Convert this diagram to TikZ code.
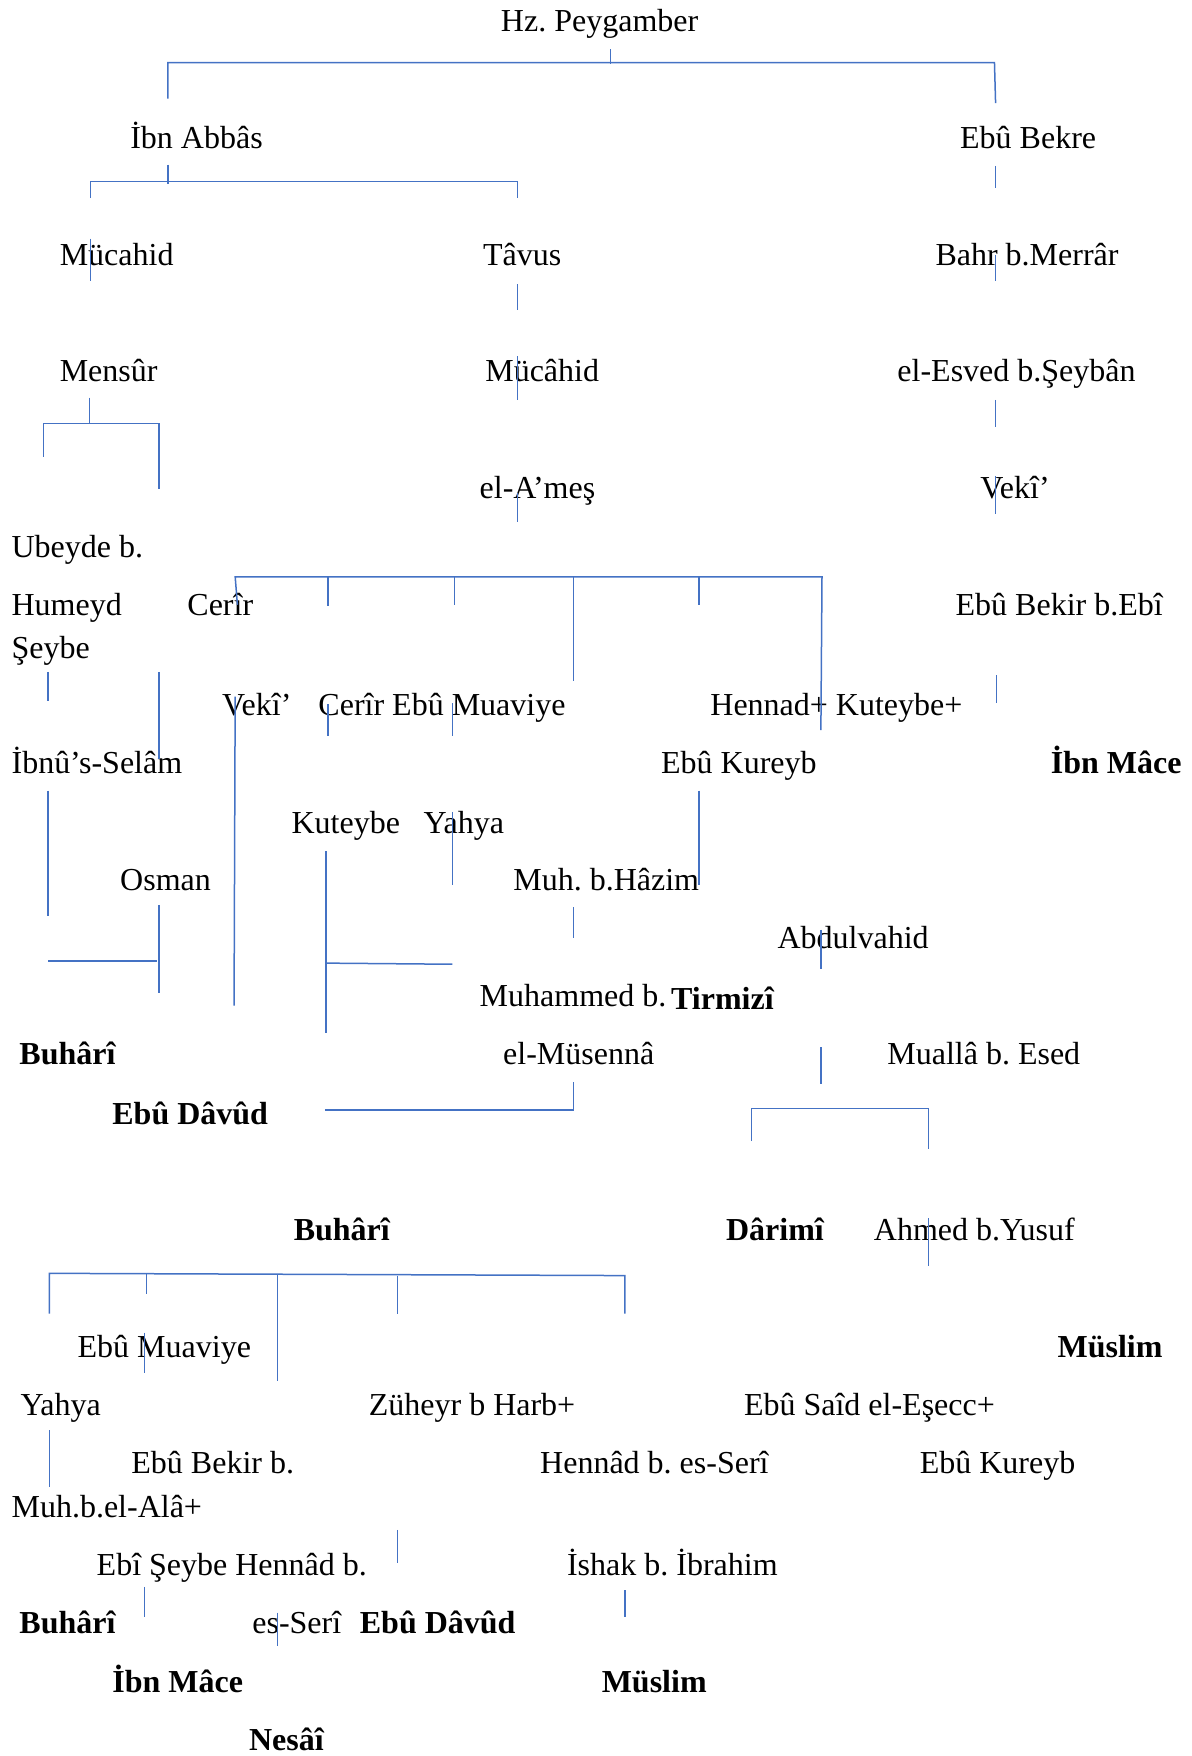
\documentclass[tikz,border=0pt]{standalone}
\usepackage{fontspec}
\setmainfont{Liberation Serif}
\usepackage{tikz}
\usetikzlibrary{positioning}
\frenchspacing

\begin{document}
\begin{tikzpicture}[x=0.56pt,y=-0.56pt,
    isim/.style={anchor=base west,inner sep=0pt,yshift=-1.6pt,font=\fontsize{16}{19}\selectfont},
    musannif/.style={isim,font=\fontsize{16}{19}\selectfont\bfseries},
    hat/.style={draw=hatrengi,line width=0.75pt}]
        \definecolor{hatrengi}{RGB}{68,114,196}
        \useasboundingbox (0,0) rectangle (1064,1568);
        % isimler
        \node[isim] (hz) at (447,25) {Hz. Peygamber};
        \node[isim] (ibnabbas) at (116,130) {İbn Abbâs};
        \node[isim] (ebubekre) at (857,130) {Ebû Bekre};
        \node[isim] (mucahid) at (53,234) {Mücahid};
        \node[isim] (tavus) at (431,234) {Tâvus};
        \node[isim] (bahr) at (835,234) {Bahr b.Merrâr};
        \node[isim] (mensur) at (53,338) {Mensûr};
        \node[isim] (mucahidb) at (433,338) {Mücâhid};
        \node[isim] (esved) at (801,338) {el-Esved b.Şeybân};
        \node[isim] (ames) at (428,442) {el-A’meş};
        \node[isim] (veki) at (875,442) {Vekî’};
        \node[isim] (ubeyde) at (10,495) {Ubeyde b.};
        \node[isim] (humeyd) at (10,547) {Humeyd};
        \node[isim] (cerir) at (167,547) {Cerîr};
        \node[isim] (ebubekir) at (853,547) {Ebû Bekir b.Ebî};
        \node[isim] (seybe) at (10,585) {Şeybe};
        \node[isim] (vekib) at (198,636) {Vekî’};
        \node[isim] (cerirb) at (284,636) {Cerîr Ebû Muaviye};
        \node[isim] (hennad) at (634,636) {Hennad+ Kuteybe+};
        \node[isim] (ibnuselam) at (10,688) {İbnû’s-Selâm};
        \node[isim] (ebukureyb) at (590,688) {Ebû Kureyb};
        \node[musannif] (ibnmace) at (938,688) {İbn Mâce};
        \node[isim] (kuteybe) at (260,741) {Kuteybe};
        \node[isim] (yahya) at (378,741) {Yahya};
        \node[isim] (osman) at (107,792) {Osman};
        \node[isim] (hazim) at (458,792) {Muh. b.Hâzim};
        \node[isim] (abdulvahid) at (694,844) {Abdulvahid};
        \node[isim] (muhammed) at (428,896) {Muhammed b.};
        \node[musannif,yshift=0pt] (tirmizi) at ([xshift=2pt]muhammed.base east) {Tirmizî};
        \node[musannif] (buhari) at (17,948) {Buhârî};
        \node[isim] (musenna) at (449,948) {el-Müsennâ};
        \node[isim] (mualla) at (792,948) {Muallâ b. Esed};
        \node[musannif] (ebudavud) at (100,1001) {Ebû Dâvûd};
        \node[musannif] (buharib) at (262,1105) {Buhârî};
        \node[musannif] (darimi) at (648,1105) {Dârimî};
        \node[isim] (ahmed) at (780,1105) {Ahmed b.Yusuf};
        \node[isim] (ebumuaviye) at (69,1209) {Ebû Muaviye};
        \node[musannif] (muslim) at (944,1209) {Müslim};
        \node[isim] (yahyab) at (18,1261) {Yahya};
        \node[isim] (zuheyr) at (329,1261) {Züheyr b Harb+};
        \node[isim] (ebusaid) at (664,1261) {Ebû Saîd el-Eşecc+};
        \node[isim] (ebubekirb) at (117,1313) {Ebû Bekir b.};
        \node[isim] (hennadb) at (482,1313) {Hennâd b. es-Serî};
        \node[isim] (ebukureybb) at (821,1313) {Ebû Kureyb};
        \node[isim] (ala) at (10,1352) {Muh.b.el-Alâ+};
        \node[isim] (ebiseybe) at (86,1404) {Ebî Şeybe Hennâd b.};
        \node[isim] (ishak) at (506,1404) {İshak b. İbrahim};
        \node[musannif] (buharic) at (17,1456) {Buhârî};
        \node[isim] (esseri) at (225,1456) {es-Serî};
        \node[musannif] (ebudavudb) at (321,1456) {Ebû Dâvûd};
        \node[musannif] (ibnmaceb) at (100,1508) {İbn Mâce};
        \node[musannif] (muslimb) at (537,1508) {Müslim};
        \node[musannif] (nesai) at (222,1560) {Nesâî};
        % cizgiler
        \draw[hat] (150,88) -- (150,56) -- (888,56) -- (889,92);
        \draw[hat] (545,44) -- (545,57);
        \draw[hat] (81,177) -- (81,162) -- (462,162) -- (462,177);
        \draw[hat] (150,147) -- (150,164);
        \draw[hat] (889,148) -- (889,168);
        \draw[hat] (81,213) -- (81,251);
        \draw[hat] (462,254) -- (462,277);
        \draw[hat] (889,228) -- (889,251);
        \draw[hat] (80,355) -- (80,378);
        \draw[hat] (39,408) -- (39,378) -- (142,378) -- (142,437);
        \draw[hat] (462,318) -- (462,357);
        \draw[hat] (889,357) -- (889,381);
        \draw[hat] (462,440) -- (462,466);
        \draw[hat] (889,425) -- (889,459);
        \draw[hat] (212,540) -- (210,515) -- (734,515) -- (733,652);
        \draw[hat] (293,515) -- (293,541);
        \draw[hat] (406,515) -- (406,540);
        \draw[hat] (512,515) -- (512,608);
        \draw[hat] (624,515) -- (624,540);
        \draw[hat] (43,600) -- (43,626);
        \draw[hat] (142,600) -- (142,678);
        \draw[hat] (890,603) -- (890,628);
        \draw[hat] (293,629) -- (293,657);
        \draw[hat] (404,628) -- (404,657);
        \draw[hat] (210,622) -- (209,898);
        \draw[hat] (43,706) -- (43,818);
        \draw[hat] (624,706) -- (624,790);
        \draw[hat] (404,725) -- (404,790);
        \draw[hat] (291,760) -- (291,922);
        \draw[hat] (142,808) -- (142,887);
        \draw[hat] (43,858) -- (140,858);
        \draw[hat] (512,810) -- (512,838);
        \draw[hat] (291,860) -- (404,861);
        \draw[hat] (733,830) -- (733,865);
        \draw[hat] (733,935) -- (733,968);
        \draw[hat] (290,991) -- (512,991) -- (512,966);
        \draw[hat] (671,1019) -- (671,990) -- (829,990) -- (829,1026);
        \draw[hat] (829,1088) -- (829,1130);
        \draw[hat] (44,1173) -- (44,1137) -- (558,1139) -- (558,1173);
        \draw[hat] (131,1137) -- (131,1155);
        \draw[hat] (248,1138) -- (248,1233);
        \draw[hat] (355,1139) -- (355,1173);
        \draw[hat] (129,1190) -- (129,1226);
        \draw[hat] (44,1277) -- (44,1328);
        \draw[hat] (355,1366) -- (355,1396);
        \draw[hat] (129,1417) -- (129,1444);
        \draw[hat] (558,1420) -- (558,1444);
        \draw[hat] (248,1440) -- (248,1470);
    \end{tikzpicture}
\end{document}
